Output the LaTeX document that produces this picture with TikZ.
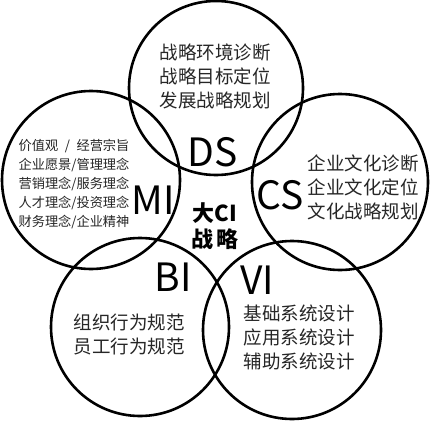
\documentclass[tikz,border=0pt]{standalone}
\usepackage{fontspec}
\setmainfont{Noto Sans CJK SC}
\begin{document}
\begin{tikzpicture}[x=1pt,y=-1pt,
  ring/.style={draw=black,line width=2.6pt},
  big/.style={font=\fontsize{39}{39}\selectfont,inner sep=0pt},
  body/.style={font=\fontsize{18.5}{24}\selectfont,align=center,inner sep=0pt,text=black!85},
  small/.style={font=\fontsize{13.2}{19.2}\selectfont,align=left,inner sep=0pt,text=black!85},
  core/.style={font=\bfseries\fontsize{22}{26}\selectfont,align=center,inner sep=0pt}]
\useasboundingbox (0,0) rectangle (438,420);
\fill[white] (0,0) rectangle (438,420);
\draw[ring] (216,88) circle (87) coordinate (cDS);
\draw[ring] (91,180) circle (89) coordinate (cMI);
\draw[ring] (340,182) circle (88) coordinate (cCS);
\draw[ring] (140,327) circle (89) coordinate (cBI);
\draw[ring] (292,330) circle (89) coordinate (cVI);

\node[body] (tDS) at (215,76) {战略环境诊断\\战略目标定位\\发展战略规划};
\node[big] (lDS) at (213,152) {DS};
\node[big] (lMI) at (153,200) {MI};
\node[small] (tMI) at (74,184) {价值观\hspace{0.5em}/\hspace{0.5em}经营宗旨\\企业愿景/管理理念\\营销理念/服务理念\\人才理念/投资理念\\财务理念/企业精神};
\node[big] (lCS) at (280,195) {CS};
\node[body] (tCS) at (363,187) {企业文化诊断\\企业文化定位\\文化战略规划};
\node[core] (core) at (215,226) {大CI\\战\hspace{0.15em}略};
\node[big] (lBI) at (173,277) {BI};
\node[big] (lVI) at (257,280) {VI};
\node[body] (tBI) at (129,334) {组织行为规范\\员工行为规范};
\node[body] (tVI) at (299,337) {基础系统设计\\应用系统设计\\辅助系统设计};
\end{tikzpicture}
\end{document}
